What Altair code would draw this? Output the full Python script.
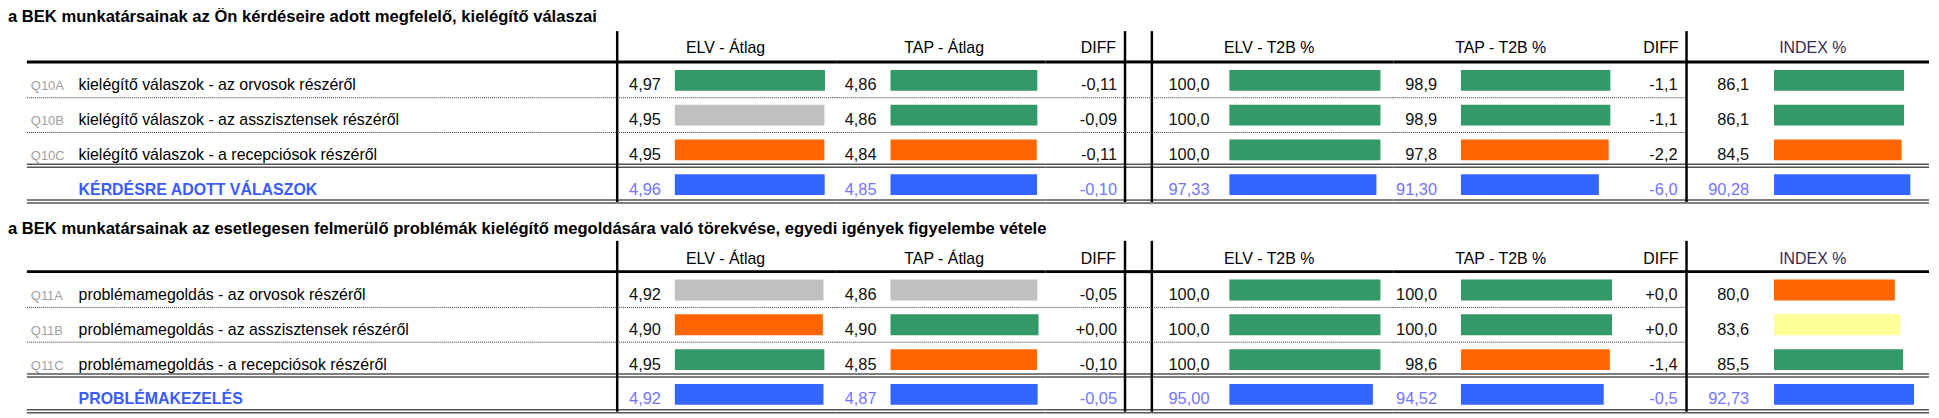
import altair as alt
import pandas as pd

FONT = "Liberation Sans, Arial, sans-serif"

# ---------------- data ----------------
titles = [
    "a BEK munkatársainak az Ön kérdéseire adott megfelelő, kielégítő válaszai",
    "a BEK munkatársainak az esetlegesen felmerülő problémák kielégítő megoldására való törekvése, egyedi igények figyelembe vétele",
]
headers = ["ELV - Átlag", "TAP - Átlag", "DIFF", "ELV - T2B %", "TAP - T2B %", "DIFF", "INDEX %"]
row_ids = ["r1", "r2", "r3", "tot"]
codes = [["Q10A", "Q10B", "Q10C", ""], ["Q11A", "Q11B", "Q11C", ""]]
labels = [
    ["kielégítő válaszok - az orvosok részéről",
     "kielégítő válaszok - az asszisztensek részéről",
     "kielégítő válaszok - a recepciósok részéről",
     "KÉRDÉSRE ADOTT VÁLASZOK"],
    ["problémamegoldás - az orvosok részéről",
     "problémamegoldás - az asszisztensek részéről",
     "problémamegoldás - a recepciósok részéről",
     "PROBLÉMAKEZELÉS"],
]
elv_atlag = [[4.97, 4.95, 4.95, 4.96], [4.92, 4.90, 4.95, 4.92]]
tap_atlag = [[4.86, 4.86, 4.84, 4.85], [4.86, 4.90, 4.85, 4.87]]
diff_atlag = [[-0.11, -0.09, -0.11, -0.10], [-0.05, 0.00, -0.10, -0.05]]
elv_t2b = [[100.0, 100.0, 100.0, 97.33], [100.0, 100.0, 100.0, 95.00]]
tap_t2b = [[98.9, 98.9, 97.8, 91.30], [100.0, 100.0, 98.6, 94.52]]
diff_t2b = [[-1.1, -1.1, -2.2, -6.0], [0.0, 0.0, -1.4, -0.5]]
index_pct = [[86.1, 86.1, 84.5, 90.28], [80.0, 83.6, 85.5, 92.73]]
pct_decimals = [1, 1, 1, 2]

# bar status categories
elv_atlag_st = [["good", "neutral", "bad", "total"], ["neutral", "bad", "good", "total"]]
tap_atlag_st = [["good", "good", "bad", "total"], ["neutral", "good", "bad", "total"]]
elv_t2b_st = [["good", "good", "good", "total"], ["good", "good", "good", "total"]]
tap_t2b_st = [["good", "good", "bad", "total"], ["good", "good", "bad", "total"]]
index_st = [["good", "good", "bad", "total"], ["bad", "warn", "good", "total"]]

status_dom = ["good", "neutral", "bad", "total", "warn"]
status_col = ["#339966", "#C0C0C0", "#FF6600", "#3366FF", "#FFFF99"]

TOTAL_LABEL = "#3a5cff"
TOTAL_NUM = "#7474ff"
ROW_H = 140
BARW = 152
FS_TITLE = 16.7
FS_LABEL = 16
FS_CODE = 13
FS_NUM = 16.5
FS_HEAD = 16
# per-table vertical placement of title / header (relative to the thick header line)
TITLE_Y = [-41, -39]
HEAD_Y = [-10, -9]


def fmt(v, d, sign=False):
    s = f"{v:+.{d}f}" if sign else f"{v:.{d}f}"
    return s.replace(".", ",")


def table_df(t):
    return pd.DataFrame({
        "row": row_ids,
        "code": codes[t],
        "label": labels[t],
        "elv_a": elv_atlag[t], "elv_a_t": [fmt(v, 2) for v in elv_atlag[t]], "elv_a_s": elv_atlag_st[t],
        "tap_a": tap_atlag[t], "tap_a_t": [fmt(v, 2) for v in tap_atlag[t]], "tap_a_s": tap_atlag_st[t],
        "diff_a_t": [fmt(v, 2, True) for v in diff_atlag[t]],
        "elv_p": elv_t2b[t], "elv_p_t": [fmt(v, d) for v, d in zip(elv_t2b[t], pct_decimals)], "elv_p_s": elv_t2b_st[t],
        "tap_p": tap_t2b[t], "tap_p_t": [fmt(v, d) for v, d in zip(tap_t2b[t], pct_decimals)], "tap_p_s": tap_t2b_st[t],
        "diff_p_t": [fmt(v, 1, True) for v in diff_t2b[t]],
        "idx": index_pct[t], "idx_t": [fmt(v, d) for v, d in zip(index_pct[t], pct_decimals)], "idx_s": index_st[t],
    })


ONE = pd.DataFrame({"k": [0]})


def Y(bp=None):
    kw = dict(scale=alt.Scale(domain=row_ids, paddingInner=0, paddingOuter=0), axis=None)
    if bp is not None:
        kw["bandPosition"] = bp
    return alt.Y("row:N", **kw)


def grid_layers(df, w, dotted=True, vline=False):
    L = []
    L.append(alt.Chart(df[df.row == "r1"]).mark_rule(color="#000", strokeWidth=3, yOffset=-1)
             .encode(y=Y(0), x=alt.value(0), x2=alt.value(w)))
    if dotted:
        L.append(alt.Chart(df[df.row.isin(["r2", "r3"])]).mark_rule(color="#333", strokeWidth=1, strokeDash=[1, 1])
                 .encode(y=Y(0), x=alt.value(0), x2=alt.value(w)))
    tot = df[df.row == "tot"]
    for off in (-3, 0):
        L.append(alt.Chart(tot).mark_rule(color="#555", strokeWidth=1.5, yOffset=off)
                 .encode(y=Y(0), x=alt.value(0), x2=alt.value(w)))
    for off in (-2, 1):
        L.append(alt.Chart(tot).mark_rule(color="#555", strokeWidth=1.5, yOffset=off)
                 .encode(y=Y(1), x=alt.value(0), x2=alt.value(w)))
    if vline:
        L.append(alt.Chart(ONE).mark_rule(color="#000", strokeWidth=2.5)
                 .encode(x=alt.value(0), y=alt.value(-32), y2=alt.value(ROW_H)))
    return L


def header(text, x, hy, align="center", color="#000"):
    return alt.Chart(pd.DataFrame({"h": [text]})).mark_text(
        align=align, baseline="alphabetic", fontSize=FS_HEAD, font=FONT, color=color
    ).encode(x=alt.value(x), y=alt.value(hy), text="h:N")


def values(df, field, xr):
    return alt.Chart(df).mark_text(align="right", baseline="alphabetic", dy=10, fontSize=FS_NUM, font=FONT).encode(
        y=Y(), x=alt.value(xr), text=f"{field}:N",
        color=alt.condition(alt.datum.row == "tot", alt.value(TOTAL_NUM), alt.value("#111")),
    )


def bars(df, field, st, start, dmax):
    return alt.Chart(df).mark_bar(size=21).encode(
        y=Y(),
        x=alt.X(f"{field}:Q", scale=alt.Scale(domain=[0, dmax], range=[start, start + BARW]), axis=None),
        x2=alt.X2(datum=0),
        color=alt.Color(f"{st}:N", scale=alt.Scale(domain=status_dom, range=status_col), legend=None),
    )


def panel(layers, w):
    return alt.layer(*layers).properties(width=w, height=ROW_H)


def build_table(t):
    df = table_df(t)
    reg = df[df.row != "tot"]
    tot = df[df.row == "tot"]
    hy = HEAD_Y[t]
    # label panel
    p0 = grid_layers(df, 594) + [
        alt.Chart(pd.DataFrame({"title": [titles[t]]})).mark_text(
            align="left", baseline="alphabetic", fontSize=FS_TITLE, fontWeight="bold", font=FONT, color="#000"
        ).encode(x=alt.value(-19), y=alt.value(TITLE_Y[t]), text="title:N"),
        alt.Chart(reg).mark_text(align="left", baseline="alphabetic", dy=10, fontSize=FS_CODE, font=FONT, color="#a0a0a0")
        .encode(y=Y(), x=alt.value(4), text="code:N"),
        alt.Chart(reg).mark_text(align="left", baseline="alphabetic", dy=10, fontSize=FS_LABEL, font=FONT, color="#000")
        .encode(y=Y(), x=alt.value(52), text="label:N"),
        alt.Chart(tot).mark_text(align="left", baseline="alphabetic", dy=10, fontSize=FS_LABEL, fontWeight="bold",
                                 font=FONT, color=TOTAL_LABEL)
        .encode(y=Y(), x=alt.value(52), text="label:N"),
    ]
    p1 = grid_layers(df, 221, vline=True) + [header(headers[0], 109, hy), bars(df, "elv_a", "elv_a_s", 58, 5),
                                             values(df, "elv_a_t", 44)]
    p2 = grid_layers(df, 210) + [header(headers[1], 108, hy), bars(df, "tap_a", "tap_a_s", 54, 5),
                                 values(df, "tap_a_t", 40)]
    p3 = grid_layers(df, 80) + [header(headers[2], 71, hy, "right"), values(df, "diff_a_t", 72)]
    p4 = grid_layers(df, 27, vline=True)
    p5 = grid_layers(df, 243, vline=True) + [header(headers[3], 118, hy), bars(df, "elv_p", "elv_p_s", 78, 100),
                                             values(df, "elv_p_t", 58)]
    p6 = grid_layers(df, 230) + [header(headers[4], 108, hy), bars(df, "tap_p", "tap_p_s", 68, 100),
                                 values(df, "tap_p_t", 44)]
    p7 = grid_layers(df, 65) + [header(headers[5], 57, hy, "right"), values(df, "diff_p_t", 56)]
    p8 = grid_layers(df, 244, dotted=False, vline=True) + [header(headers[6], 127, hy, color="#3b2a50"),
                                                           bars(df, "idx", "idx_s", 88, 100),
                                                           values(df, "idx_t", 63)]
    widths = [594, 221, 210, 80, 27, 243, 230, 65, 244]
    panels = [panel(l, w) for l, w in zip([p0, p1, p2, p3, p4, p5, p6, p7, p8], widths)]
    return alt.hconcat(*panels, spacing=0, bounds="flush").resolve_scale(x="independent", y="independent")


# nested flush concat counts the inner table as zero height: spacing = table height + gap
chart = alt.vconcat(build_table(0), build_table(1), spacing=ROW_H + 71, bounds="flush").properties(
    padding={"left": 0, "top": 0, "right": 0, "bottom": 0}
).configure_view(strokeWidth=0)

chart.save("out.html", embed_options={"renderer": "svg", "actions": False})
